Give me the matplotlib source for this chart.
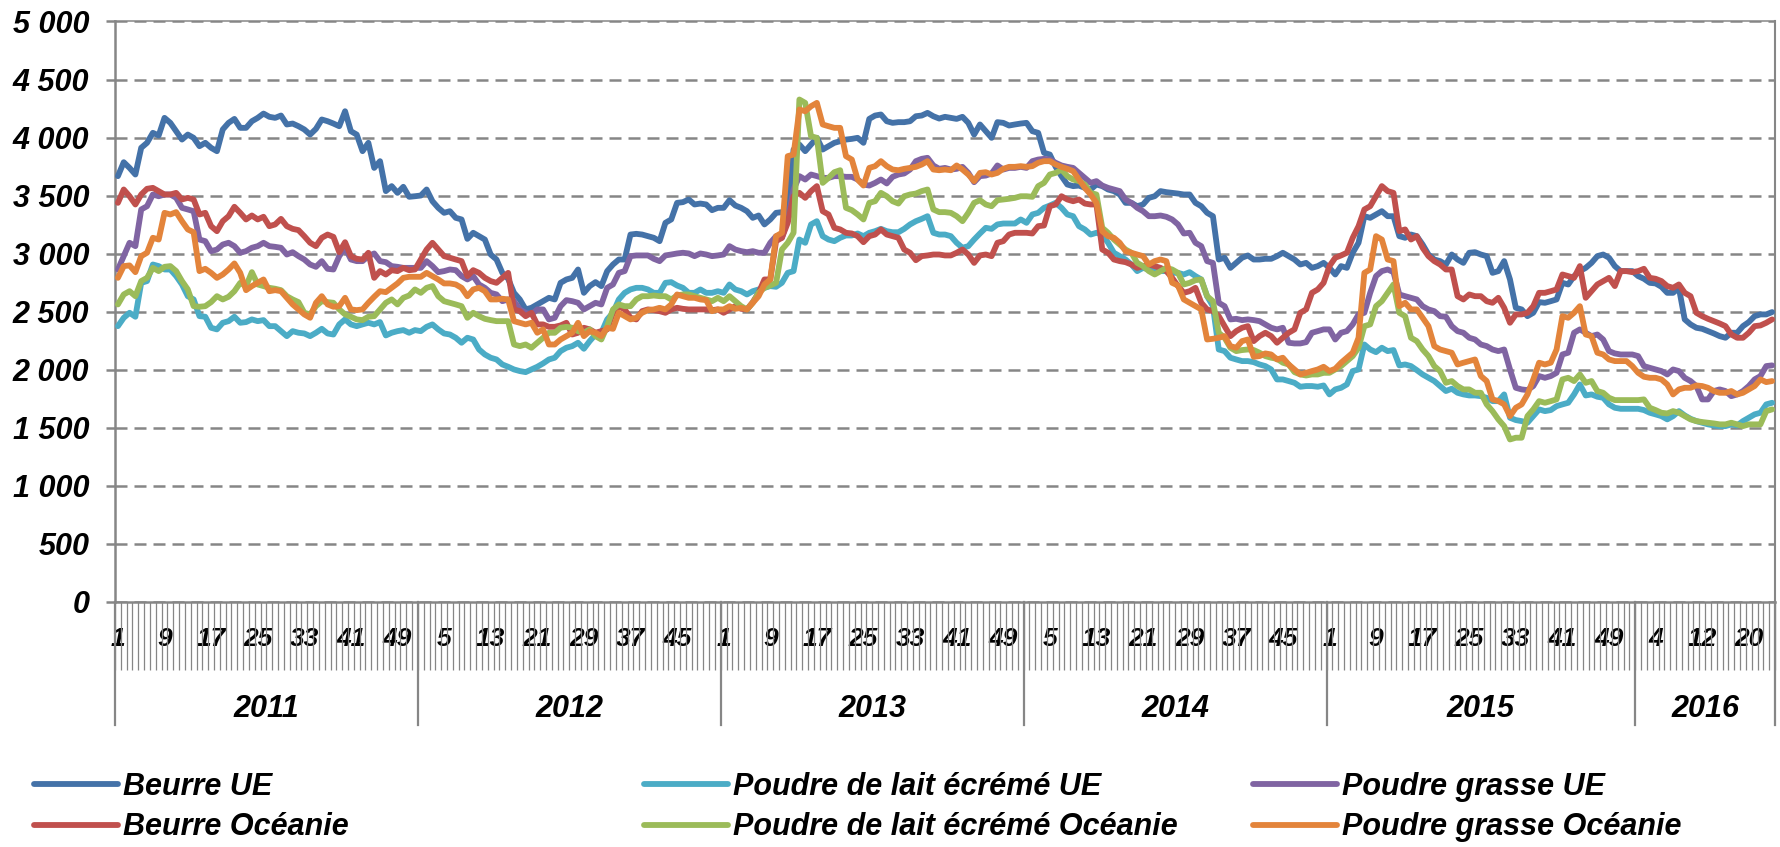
import matplotlib
matplotlib.use("Agg")
import matplotlib.pyplot as plt
import numpy as np

plt.rcParams['font.family'] = ['Liberation Sans', 'DejaVu Sans']
plt.rcParams['font.weight'] = 'bold'
plt.rcParams['font.style'] = 'italic'

# ---------------- data ----------------
years = ["2011", "2012", "2013", "2014", "2015", "2016"]
weeks_per_year = [52, 52, 52, 52, 53, 24]
week_tick_labels = ["1", "9", "17", "25", "33", "41", "49",
                    "5", "13", "21", "29", "37", "45",
                    "1", "9", "17", "25", "33", "41", "49",
                    "5", "13", "21", "29", "37", "45",
                    "1", "9", "17", "25", "33", "41", "49",
                    "4", "12", "20"]
ytick_values = [0, 500, 1000, 1500, 2000, 2500, 3000, 3500, 4000, 4500, 5000]
ytick_labels = ["0", "500", "1 000", "1 500", "2 000", "2 500", "3 000",
                "3 500", "4 000", "4 500", "5 000"]

beurre_ue = [
    3668, 3788, 3739, 3682, 3912, 3955, 4041, 4018, 4170, 4127, 4055, 3983, 4026, 3998, 3926, 3955, 3912, 3883, 4070, 4127, 4161, 4084, 4084, 4141, 4170, 4207, 4179, 4170, 4190, 4113, 4121, 4098, 4070, 4026, 4075, 4156, 4141, 4121, 4098, 4227, 4055, 4026, 3883, 3955, 3739, 3797, 3539, 3582, 3524, 3576, 3490, 3495,
    3501, 3553, 3452, 3395, 3352, 3366, 3309, 3295, 3128, 3180, 3151, 3122, 2993, 2950, 2835, 2784, 2663, 2606, 2520, 2534, 2563, 2591, 2620, 2606, 2749, 2778, 2792, 2864, 2663, 2721, 2755, 2721, 2850, 2907, 2950, 2950, 3165, 3171, 3165, 3151, 3137, 3108, 3266, 3295, 3438, 3444, 3467, 3424, 3432, 3424, 3375, 3395,
    3395, 3461, 3415, 3395, 3366, 3309, 3329, 3252, 3295, 3352, 3358, 3381, 3897, 3940, 3883, 3940, 3998, 3897, 3926, 3955, 3969, 3983, 3989, 3998, 3955, 4161, 4190, 4199, 4141, 4127, 4133, 4133, 4141, 4184, 4190, 4213, 4184, 4164, 4179, 4170, 4161, 4179, 4127, 4026, 4113, 4055, 3998, 4133, 4127, 4104, 4113, 4121,
    4127, 4055, 4041, 3869, 3854, 3748, 3668, 3596, 3582, 3587, 3567, 3553, 3596, 3582, 3553, 3539, 3510, 3438, 3438, 3409, 3424, 3481, 3495, 3539, 3530, 3524, 3518, 3510, 3510, 3438, 3409, 3352, 3323, 2950, 2965, 2878, 2921, 2965, 2985, 2950, 2950, 2956, 2956, 2979, 3008, 2979, 2950, 2907, 2921, 2878, 2893, 2921,
    2878, 2821, 2893, 2878, 3008, 3094, 3323, 3309, 3338, 3366, 3323, 3323, 3151, 3137, 3165, 3151, 3079, 2993, 2950, 2936, 2907, 2993, 2950, 2921, 3008, 3013, 2993, 2979, 2835, 2850, 2936, 2778, 2534, 2520, 2462, 2491, 2583, 2577, 2591, 2606, 2749, 2735, 2807, 2850, 2878, 2921, 2979, 2993, 2965, 2893, 2850, 2850, 2850,
    2807, 2784, 2749, 2744, 2715, 2663, 2663, 2706, 2434, 2391, 2362, 2353, 2333, 2313, 2290, 2276, 2319, 2319, 2376, 2411, 2462, 2477, 2477, 2497,
]
ple_ue = [
    2376, 2448, 2491, 2457, 2749, 2764, 2907, 2893, 2864, 2864, 2807, 2735, 2634, 2606, 2462, 2457, 2362, 2348, 2405, 2419, 2457, 2405, 2411, 2434, 2419, 2428, 2376, 2376, 2333, 2290, 2333, 2319, 2313, 2290, 2319, 2353, 2313, 2304, 2391, 2434, 2391, 2376, 2391, 2405, 2391, 2411, 2296, 2319, 2333, 2342, 2319, 2342,
    2333, 2370, 2391, 2348, 2313, 2304, 2276, 2233, 2276, 2261, 2175, 2132, 2104, 2089, 2046, 2026, 2003, 1989, 1980, 2003, 2026, 2055, 2089, 2104, 2161, 2190, 2204, 2233, 2181, 2247, 2304, 2319, 2434, 2491, 2606, 2663, 2692, 2706, 2706, 2692, 2663, 2663, 2749, 2755, 2726, 2706, 2663, 2663, 2692, 2663, 2663, 2677,
    2663, 2735, 2692, 2677, 2649, 2677, 2692, 2706, 2721, 2715, 2749, 2835, 2850, 3122, 3094, 3252, 3280, 3151, 3122, 3108, 3137, 3157, 3157, 3174, 3151, 3180, 3194, 3214, 3194, 3185, 3185, 3214, 3252, 3280, 3300, 3323, 3180, 3165, 3165, 3151, 3094, 3051, 3065, 3122, 3174, 3223, 3214, 3252, 3260, 3260, 3260, 3295,
    3266, 3338, 3352, 3395, 3415, 3438, 3395, 3338, 3323, 3237, 3209, 3165, 3180, 3165, 3094, 3008, 2979, 2950, 2907, 2850, 2878, 2864, 2858, 2850, 2850, 2835, 2835, 2821, 2841, 2807, 2778, 2634, 2548, 2175, 2161, 2104, 2089, 2075, 2075, 2066, 2046, 2032, 2003, 1917, 1917, 1903, 1888, 1854, 1860, 1860, 1854, 1865,
    1788, 1831, 1845, 1874, 1989, 2003, 2218, 2175, 2152, 2190, 2161, 2170, 2038, 2046, 2032, 1997, 1960, 1931, 1903, 1860, 1817, 1837, 1802, 1788, 1779, 1779, 1773, 1759, 1730, 1730, 1788, 1587, 1567, 1558, 1544, 1601, 1659, 1644, 1653, 1687, 1702, 1716, 1788, 1874, 1779, 1788, 1768, 1759, 1702, 1673, 1664, 1664, 1664,
    1664, 1653, 1630, 1616, 1601, 1573, 1601, 1644, 1607, 1578, 1558, 1544, 1530, 1521, 1515, 1515, 1530, 1521, 1558, 1587, 1616, 1630, 1702, 1716,
]
pg_ue = [
    2864, 2979, 3094, 3065, 3381, 3409, 3510, 3495, 3510, 3510, 3481, 3395, 3381, 3366, 3122, 3108, 3022, 3036, 3079, 3094, 3065, 3008, 3022, 3051, 3065, 3094, 3065, 3059, 3051, 2993, 3013, 2979, 2950, 2907, 2887, 2936, 2870, 2864, 2979, 3051, 2950, 2936, 2936, 2979, 3002, 2936, 2927, 2893, 2887, 2878, 2878, 2878,
    2878, 2936, 2893, 2841, 2850, 2864, 2858, 2807, 2778, 2807, 2735, 2706, 2663, 2649, 2591, 2606, 2591, 2520, 2491, 2477, 2520, 2520, 2434, 2448, 2548, 2600, 2591, 2577, 2520, 2548, 2577, 2563, 2706, 2735, 2835, 2850, 2979, 2985, 2985, 2985, 2956, 2936, 2985, 2993, 3002, 3008, 3002, 2979, 3002, 2993, 2979, 2985,
    2993, 3065, 3036, 3022, 3013, 3022, 3008, 3008, 3094, 3151, 3137, 3295, 3553, 3668, 3639, 3682, 3668, 3653, 3653, 3668, 3668, 3662, 3662, 3639, 3596, 3587, 3610, 3639, 3605, 3662, 3682, 3691, 3725, 3797, 3817, 3826, 3760, 3731, 3739, 3725, 3731, 3748, 3696, 3616, 3668, 3673, 3691, 3760, 3725, 3739, 3739, 3748,
    3739, 3797, 3811, 3817, 3811, 3783, 3760, 3748, 3739, 3696, 3653, 3610, 3625, 3587, 3567, 3553, 3539, 3467, 3438, 3395, 3366, 3323, 3323, 3329, 3318, 3295, 3252, 3174, 3180, 3094, 3065, 2936, 2921, 2577, 2548, 2434, 2439, 2428, 2434, 2428, 2419, 2391, 2362, 2348, 2362, 2233, 2227, 2227, 2238, 2319, 2333, 2348,
    2348, 2261, 2319, 2333, 2391, 2477, 2491, 2663, 2807, 2850, 2864, 2841, 2649, 2634, 2620, 2606, 2548, 2520, 2505, 2462, 2457, 2376, 2333, 2319, 2276, 2261, 2218, 2204, 2175, 2161, 2175, 2003, 1845, 1831, 1825, 1860, 1946, 1931, 1946, 1974, 2132, 2147, 2319, 2348, 2319, 2290, 2304, 2261, 2161, 2141, 2132, 2132, 2132,
    2118, 2032, 2017, 2003, 1989, 1960, 2003, 1989, 1931, 1903, 1860, 1745, 1745, 1817, 1831, 1817, 1773, 1788, 1817, 1860, 1917, 1946, 2032, 2038,
]
beurre_oc = [
    3438, 3553, 3495, 3424, 3510, 3559, 3567, 3539, 3510, 3510, 3524, 3467, 3481, 3467, 3338, 3352, 3237, 3194, 3280, 3323, 3404, 3352, 3295, 3329, 3295, 3318, 3237, 3252, 3300, 3237, 3214, 3203, 3151, 3094, 3065, 3137, 3165, 3145, 3013, 3099, 2979, 2956, 2950, 3008, 2792, 2850, 2821, 2858, 2850, 2878, 2858, 2864,
    2950, 3036, 3094, 3036, 2979, 2965, 2950, 2936, 2807, 2858, 2835, 2792, 2764, 2749, 2792, 2835, 2520, 2505, 2462, 2491, 2391, 2391, 2370, 2370, 2382, 2405, 2304, 2319, 2362, 2348, 2319, 2333, 2348, 2491, 2548, 2520, 2448, 2434, 2505, 2520, 2514, 2505, 2491, 2520, 2534, 2525, 2520, 2520, 2520, 2520, 2514, 2520,
    2491, 2520, 2548, 2525, 2520, 2583, 2663, 2778, 2778, 3108, 3137, 3266, 3495, 3524, 3481, 3539, 3582, 3366, 3338, 3223, 3209, 3180, 3174, 3151, 3099, 3151, 3165, 3209, 3165, 3151, 3137, 3036, 3008, 2944, 2979, 2985, 2993, 2993, 2985, 2985, 3008, 3036, 2993, 2921, 2985, 2993, 2979, 3094, 3108, 3165, 3180, 3180,
    3180, 3174, 3237, 3243, 3409, 3424, 3495, 3467, 3452, 3467, 3432, 3424, 3424, 3036, 3008, 2950, 2936, 2927, 2907, 2878, 2893, 2907, 2893, 2878, 2850, 2792, 2721, 2663, 2677, 2706, 2577, 2520, 2505, 2462, 2376, 2290, 2333, 2362, 2376, 2247, 2290, 2319, 2290, 2233, 2276, 2319, 2348, 2491, 2520, 2663, 2692, 2749,
    2893, 2965, 2985, 3008, 3137, 3237, 3381, 3409, 3495, 3582, 3539, 3524, 3194, 3209, 3122, 3151, 3051, 2979, 2936, 2907, 2864, 2864, 2634, 2606, 2649, 2634, 2634, 2591, 2577, 2620, 2534, 2405, 2477, 2477, 2491, 2548, 2663, 2663, 2677, 2692, 2821, 2807, 2792, 2893, 2620, 2677, 2735, 2764, 2792, 2721, 2850, 2850, 2841,
    2850, 2870, 2792, 2784, 2764, 2721, 2706, 2735, 2663, 2634, 2491, 2462, 2439, 2419, 2399, 2376, 2304, 2276, 2276, 2319, 2376, 2382, 2405, 2434,
]
ple_oc = [
    2563, 2649, 2677, 2634, 2764, 2792, 2878, 2850, 2887, 2893, 2850, 2764, 2692, 2548, 2543, 2548, 2583, 2634, 2606, 2629, 2677, 2749, 2721, 2841, 2735, 2721, 2706, 2698, 2686, 2634, 2606, 2583, 2491, 2477, 2548, 2591, 2583, 2577, 2520, 2477, 2457, 2434, 2428, 2457, 2462, 2520, 2577, 2606, 2563, 2620, 2640, 2692,
    2663, 2706, 2721, 2634, 2591, 2577, 2563, 2548, 2448, 2491, 2462, 2439, 2428, 2419, 2419, 2419, 2218, 2204, 2218, 2190, 2233, 2276, 2319, 2319, 2362, 2370, 2362, 2333, 2319, 2348, 2290, 2261, 2376, 2520, 2563, 2548, 2548, 2606, 2634, 2634, 2640, 2634, 2634, 2606, 2640, 2649, 2649, 2634, 2620, 2606, 2591, 2620,
    2591, 2634, 2591, 2548, 2520, 2577, 2663, 2706, 2726, 2749, 3036, 3094, 3180, 4328, 4299, 4012, 3998, 3610, 3653, 3702, 3719, 3395, 3375, 3338, 3295, 3438, 3452, 3524, 3495, 3452, 3432, 3495, 3510, 3518, 3539, 3553, 3381, 3358, 3358, 3352, 3323, 3280, 3352, 3438, 3461, 3424, 3409, 3461, 3467, 3473, 3481, 3495,
    3495, 3490, 3582, 3610, 3682, 3696, 3725, 3668, 3639, 3625, 3596, 3524, 3510, 3223, 3180, 3122, 3079, 3036, 3008, 2921, 2893, 2850, 2821, 2850, 2878, 2864, 2835, 2735, 2749, 2772, 2778, 2634, 2591, 2319, 2276, 2190, 2161, 2170, 2175, 2170, 2147, 2118, 2104, 2095, 2061, 2046, 1980, 1960, 1951, 1960, 1960, 1974,
    1974, 2003, 2032, 2075, 2118, 2190, 2376, 2391, 2548, 2591, 2663, 2735, 2491, 2462, 2276, 2247, 2175, 2118, 2032, 1989, 1888, 1903, 1860, 1831, 1831, 1802, 1802, 1702, 1644, 1573, 1515, 1400, 1415, 1415, 1601, 1659, 1730, 1716, 1730, 1745, 1917, 1931, 1903, 1960, 1888, 1903, 1817, 1802, 1759, 1739, 1739, 1739, 1739,
    1739, 1745, 1673, 1653, 1630, 1624, 1644, 1630, 1601, 1573, 1558, 1550, 1544, 1538, 1530, 1530, 1544, 1530, 1515, 1530, 1530, 1530, 1644, 1659,
]
pg_oc = [
    2792, 2893, 2899, 2841, 2979, 3008, 3137, 3122, 3352, 3338, 3358, 3280, 3209, 3185, 2850, 2870, 2835, 2792, 2821, 2864, 2916, 2835, 2686, 2721, 2749, 2778, 2677, 2686, 2677, 2620, 2563, 2520, 2477, 2448, 2577, 2634, 2563, 2543, 2548, 2620, 2520, 2514, 2520, 2577, 2629, 2677, 2669, 2706, 2744, 2792, 2801, 2801,
    2801, 2835, 2807, 2778, 2744, 2744, 2735, 2706, 2634, 2692, 2706, 2677, 2606, 2606, 2612, 2606, 2419, 2405, 2391, 2405, 2319, 2348, 2218, 2218, 2261, 2290, 2319, 2405, 2290, 2333, 2319, 2290, 2362, 2353, 2491, 2462, 2434, 2448, 2491, 2514, 2520, 2534, 2520, 2563, 2649, 2634, 2620, 2620, 2606, 2600, 2505, 2520,
    2520, 2548, 2525, 2534, 2520, 2577, 2634, 2735, 2778, 3151, 3180, 3840, 3854, 4242, 4227, 4270, 4299, 4113, 4098, 4084, 4084, 3840, 3811, 3639, 3587, 3739, 3754, 3797, 3754, 3725, 3719, 3731, 3739, 3748, 3768, 3797, 3725, 3719, 3725, 3719, 3760, 3725, 3682, 3625, 3696, 3702, 3682, 3696, 3731, 3748, 3748, 3754,
    3748, 3754, 3783, 3797, 3797, 3768, 3748, 3731, 3711, 3639, 3567, 3510, 3438, 3194, 3151, 3137, 3094, 3022, 3008, 2993, 2979, 2907, 2936, 2950, 2936, 2749, 2726, 2606, 2577, 2548, 2520, 2261, 2267, 2276, 2290, 2204, 2190, 2247, 2261, 2112, 2118, 2141, 2132, 2089, 2104, 2046, 2003, 1960, 1974, 1989, 2003, 2026,
    1989, 2009, 2061, 2104, 2147, 2276, 2835, 2864, 3151, 3122, 2950, 2936, 2548, 2577, 2520, 2520, 2448, 2376, 2204, 2175, 2161, 2147, 2046, 2061, 2075, 2089, 1946, 1903, 1745, 1731, 1702, 1601, 1673, 1702, 1788, 1917, 2061, 2046, 2061, 2175, 2462, 2448, 2491, 2548, 2304, 2290, 2147, 2132, 2089, 2075, 2075, 2075, 2032,
    1974, 1940, 1931, 1931, 1917, 1874, 1788, 1831, 1845, 1845, 1865, 1860, 1845, 1817, 1802, 1802, 1817, 1788, 1802, 1831, 1860, 1917, 1894, 1903,
]

labels = ["Beurre UE", "Poudre de lait écrémé UE", "Poudre grasse UE",
          "Beurre Océanie", "Poudre de lait écrémé Océanie", "Poudre grasse Océanie"]
colors = ["#4472A8", "#4BACC6", "#8064A2", "#C0504D", "#9BBB59", "#E3843B"]

# ---------------- figure ----------------
GREY = "#868686"
fig = plt.figure(figsize=(17.81, 8.47), dpi=100)
ax = fig.add_axes([0.06457, 0.28926, 0.93206, 0.68536])

n = len(beurre_ue)
x = np.arange(n)
handles = []
for vals, lab, col in zip([beurre_ue, ple_ue, pg_ue, beurre_oc, ple_oc, pg_oc], labels, colors):
    h, = ax.plot(x, vals, color=col, lw=4.2, solid_joinstyle='round',
                 solid_capstyle='round', label=lab, zorder=3)
    handles.append(h)

ax.set_xlim(-0.5, n - 0.5)
ax.set_ylim(0, 5000)
ax.set_yticks(ytick_values, ytick_labels)
ax.yaxis.grid(True, color=GREY, lw=1.8, linestyle=(0, (4.8, 2.8)))
ax.set_axisbelow(True)

# x axis: week labels every 8 categories, a tick mark at every category boundary
ax.set_xticks(np.arange(0, n, 8), week_tick_labels)
ax.set_xticks(np.arange(-0.5, n, 1.0), minor=True)
ax.tick_params(axis='x', which='major', length=0, pad=18, labelsize=19)
ax.tick_params(axis='x', which='minor', length=49, width=0.9, color=GREY)
ax.tick_params(axis='y', length=6.5, width=1.8, color=GREY, pad=12, labelsize=22)

for side, lw in [('left', 1.8), ('bottom', 1.8), ('right', 1.5), ('top', 1.1)]:
    ax.spines[side].set_color(GREY)
    ax.spines[side].set_linewidth(lw)

# year separators and labels
bounds = np.concatenate([[0], np.cumsum(weeks_per_year)]) - 0.5
trans = ax.get_xaxis_transform()
for b in bounds:
    ax.plot([b, b], [0, -0.212], transform=trans, color=GREY, lw=1.6,
            clip_on=False, zorder=1)
for i, yr in enumerate(years):
    ax.text((bounds[i] + bounds[i + 1]) / 2, -0.184, yr, transform=trans,
            ha='center', va='center', fontsize=22)

# legend: three columns of two entries
col_x = [34 / 1781, 644 / 1781, 1253 / 1781]
for c in range(3):
    fig.legend(handles=[handles[c], handles[c + 3]],
               labels=[labels[c], labels[c + 3]],
               loc='center left', bbox_to_anchor=(col_x[c], 0.0472),
               frameon=False, fontsize=22, handlelength=2.75,
               handletextpad=0.15, borderpad=0, borderaxespad=0,
               labelspacing=0.35)

fig.savefig("out.png", dpi=100)
